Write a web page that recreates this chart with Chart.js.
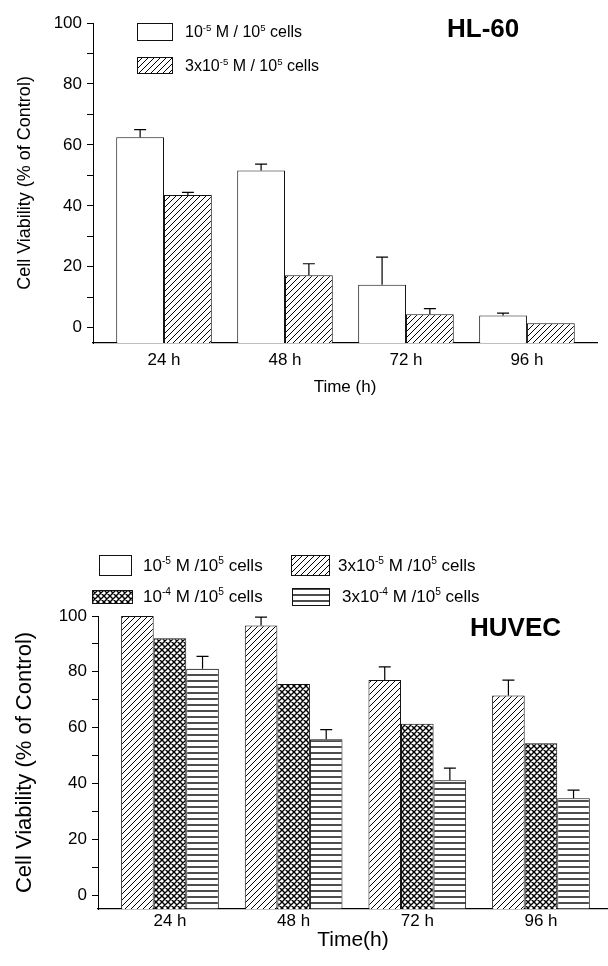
<!DOCTYPE html>
<html>
<head>
<meta charset="utf-8">
<script src="https://cdn.jsdelivr.net/npm/chart.js@4.4.1/dist/chart.umd.min.js"></script>
<style>
  body { margin: 0; background: #fff; width: 608px; height: 966px; position: relative; overflow: hidden;
         font-family: 'Liberation Sans', Arial, sans-serif; color: #000; }
  canvas.chart { position: absolute; left: 0; }
  .leg { position: absolute; white-space: nowrap; line-height: 24px; height: 24px; }
  sup { font-size: 0.6em; vertical-align: 0.65em; line-height: 0; }
  .ttl { position: absolute; font-weight: bold; font-size: 26px; line-height: 26px; }
</style>
</head>
<body>
<canvas id="hl60" class="chart" width="608" height="410" style="top:0"></canvas>
<canvas id="huvec" class="chart" width="608" height="436" style="top:530px"></canvas>
<div class="ttl" style="left:447px;top:15px">HL-60</div>
<div class="ttl" style="left:470px;top:614px">HUVEC</div>
<div id="legends"></div>
<script>
'use strict';

// DATA - HL-60
var hlTimes = ['24 h', '48 h', '72 h', '96 h'];
var hlLow = [62.5, 51.6, 14.1, 4.0];        // 10^-5 M / 10^5 cells
var hlLowErr = [65.0, 53.7, 23.2, 4.8];     // top of error bar
var hlHigh = [43.6, 17.2, 4.4, 1.5];        // 3x10^-5 M / 10^5 cells
var hlHighErr = [44.4, 21.0, 6.3, null];

// DATA - HUVEC
var huTimes = ['24 h', '48 h', '72 h', '96 h'];
var huA = [null, null, null, null];          // 10^-5 M (not plotted in the figure)
var huB = [100, 96.6, 77.1, 71.5];           // 3x10^-5 M
var huBErr = [null, 99.6, 81.8, 77.0];
var huC = [92.0, 75.6, 61.4, 54.4];          // 10^-4 M
var huD = [81.1, 55.8, 41.1, 34.7];          // 3x10^-4 M
var huDErr = [85.5, 59.3, 45.5, 37.6];

var yTicks = [0, 10, 20, 30, 40, 50, 60, 70, 80, 90, 100];
var yMin = -5;

Chart.defaults.font.family = "'Liberation Sans', Arial, sans-serif";
Chart.defaults.color = '#000';

// FILL PATTERNS
function makePattern(kind) {
  var c = document.createElement('canvas');
  c.width = 6; c.height = 6;
  var g = c.getContext('2d');
  g.fillStyle = '#fff';
  g.fillRect(0, 0, 6, 6);
  if (kind === 'white') return '#fff';
  g.strokeStyle = '#000';
  g.beginPath();
  if (kind === 'diag' || kind === 'cross') {
    g.lineWidth = kind === 'cross' ? 1.4 : 1;
    g.moveTo(-1, 7); g.lineTo(7, -1);
    g.moveTo(-1, 1); g.lineTo(1, -1);
    g.moveTo(5, 7); g.lineTo(7, 5);
  }
  if (kind === 'cross') {
    g.moveTo(-1, -1); g.lineTo(7, 7);
    g.moveTo(5, -1); g.lineTo(7, 1);
    g.moveTo(-1, 5); g.lineTo(1, 7);
  }
  if (kind === 'horiz') {
    g.lineWidth = 1.4;
    g.moveTo(0, 1); g.lineTo(6, 1);
  }
  g.stroke();
  return g.createPattern(c, 'repeat');
}
var fills = {
  white: makePattern('white'),
  diag: makePattern('diag'),
  cross: makePattern('cross'),
  horiz: makePattern('horiz')
};

// ERROR BARS (upper only)
var errorBars = {
  id: 'errorBars',
  afterDatasetsDraw: function (chart) {
    var ctx = chart.ctx;
    var yScale = chart.scales.y;
    chart.data.datasets.forEach(function (ds, di) {
      if (!ds.errTop) return;
      chart.getDatasetMeta(di).data.forEach(function (bar, i) {
        var top = ds.errTop[i];
        if (top === null || top === undefined) return;
        var yt = yScale.getPixelForValue(top);
        ctx.save();
        ctx.strokeStyle = '#000';
        ctx.lineWidth = 1.2;
        ctx.beginPath();
        ctx.moveTo(bar.x, bar.y);
        ctx.lineTo(bar.x, yt);
        ctx.moveTo(bar.x - 6, yt);
        ctx.lineTo(bar.x + 6, yt);
        ctx.stroke();
        ctx.restore();
      });
    });
  }
};

function barSet(values, fill, err) {
  return {
    data: values,
    errTop: err,
    backgroundColor: fill,
    borderColor: '#111',
    borderWidth: 1,
    base: yMin,
    barPercentage: 1,
    categoryPercentage: 0.79
  };
}

function makeChart(id, times, datasets, o) {
  return new Chart(document.getElementById(id), {
    type: 'bar',
    data: {
      labels: times.map(function (t, i) { return i + 1; }),
      datasets: datasets
    },
    plugins: [errorBars],
    options: {
      responsive: false,
      animation: false,
      datasets: { bar: { skipNull: true } },
      layout: { padding: { top: o.top, right: o.right, left: 0, bottom: 0 } },
      plugins: { legend: { display: false }, tooltip: { enabled: false } },
      scales: {
        x: {
          type: 'linear',
          min: o.xMin,
          max: o.xMax,
          offset: false,
          afterBuildTicks: function (s) { s.ticks = times.map(function (t, i) { return { value: i + 1 }; }); },
          afterFit: function (s) { s.height = o.xHeight; },
          grid: { display: false, drawTicks: false },
          border: { color: '#000', width: 1.2 },
          ticks: {
            autoSkip: false, maxRotation: 0, padding: o.xPad,
            font: { size: 17 },
            callback: function (v, i) { return times[i]; }
          },
          title: { display: true, text: o.xTitle, font: { size: o.xTitleSize }, padding: { top: 0, bottom: o.xTitlePad } }
        },
        y: {
          min: yMin,
          max: 100,
          afterBuildTicks: function (s) { s.ticks = yTicks.map(function (v) { return { value: v }; }); },
          afterFit: function (s) { s.width = o.yWidth; },
          grid: { display: true, drawOnChartArea: false, drawTicks: true, tickLength: 6, tickColor: '#000' },
          border: { color: '#000', width: 1 },
          ticks: {
            autoSkip: false, padding: 5,
            font: { size: 17 },
            callback: function (v) { return v % 20 === 0 ? v : ''; }
          },
          title: { display: true, text: 'Cell Viability (% of Control)', font: { size: o.yTitleSize }, padding: { top: o.yTitlePad, bottom: 0 } }
        }
      }
    }
  });
}

makeChart('hl60', hlTimes, [
  barSet(hlLow, fills.white, hlLowErr),
  barSet(hlHigh, fills.diag, hlHighErr)
], { top: 23, right: 11, xMin: 0.413, xMax: 4.579, xHeight: 67, xPad: 7,
     xTitle: 'Time (h)', xTitleSize: 17, xTitlePad: 12, yWidth: 93, yTitleSize: 18, yTitlePad: 14 });

makeChart('huvec', huTimes, [
  barSet(huA, fills.white, null),
  barSet(huB, fills.diag, huBErr),
  barSet(huC, fills.cross, null),
  barSet(huD, fills.horiz, huDErr)
], { top: 86, right: 0, xMin: 0.418, xMax: 4.542, xHeight: 57, xPad: 2,
     xTitle: 'Time(h)', xTitleSize: 21, xTitlePad: 13, yWidth: 98, yTitleSize: 22, yTitlePad: 12 });

// LEGENDS
var legendItems = [
  { x: 137, y: 23, w: 36, h: 18, fill: 'white', tx: 185, size: 16, html: '10<sup>-5</sup> M / 10<sup>5</sup> cells' },
  { x: 137, y: 57, w: 36, h: 17, fill: 'diag', tx: 185, size: 16, html: '3x10<sup>-5</sup> M / 10<sup>5</sup> cells' },
  { x: 99, y: 555, w: 33, h: 21, fill: 'white', tx: 143, size: 17, html: '10<sup>-5</sup> M /10<sup>5</sup> cells' },
  { x: 291, y: 555, w: 39, h: 21, fill: 'diag', tx: 338, size: 17, html: '3x10<sup>-5</sup> M /10<sup>5</sup> cells' },
  { x: 92, y: 590, w: 41, h: 14, fill: 'cross', tx: 143, size: 17, html: '10<sup>-4</sup> M /10<sup>5</sup> cells' },
  { x: 292, y: 588, w: 38, h: 18, fill: 'horiz', tx: 342, size: 17, html: '3x10<sup>-4</sup> M /10<sup>5</sup> cells' }
];
var legendBox = document.getElementById('legends');
legendItems.forEach(function (it) {
  var sw = document.createElement('canvas');
  sw.width = it.w; sw.height = it.h;
  sw.style.position = 'absolute';
  sw.style.left = it.x + 'px';
  sw.style.top = it.y + 'px';
  var g = sw.getContext('2d');
  g.fillStyle = fills[it.fill];
  g.fillRect(0, 0, it.w, it.h);
  g.strokeStyle = '#111';
  g.lineWidth = 1;
  g.strokeRect(0.5, 0.5, it.w - 1, it.h - 1);
  legendBox.appendChild(sw);

  var t = document.createElement('div');
  t.className = 'leg';
  t.style.left = it.tx + 'px';
  t.style.top = (it.y + it.h / 2 - 12) + 'px';
  t.style.fontSize = it.size + 'px';
  t.innerHTML = it.html;
  legendBox.appendChild(t);
});
</script>
</body>
</html>
